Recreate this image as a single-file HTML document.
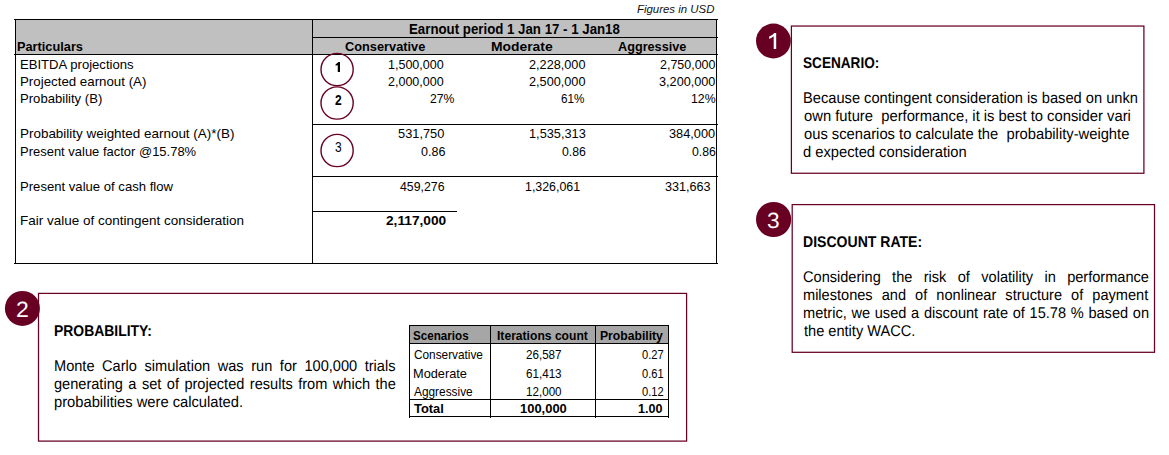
<!DOCTYPE html>
<html><head><meta charset="utf-8"><title>Earnout</title>
<style>
html,body{margin:0;padding:0;background:#fff;}
body{width:1169px;height:455px;position:relative;overflow:hidden;font-family:'Liberation Sans',sans-serif;}
.t{position:absolute;white-space:pre;line-height:1;transform-origin:0 0;color:#000;}
.r{position:absolute;}
svg{position:absolute;left:0;top:0;}
</style></head>
<body>
<div class="r" style="left:16px;top:20px;width:701px;height:34px;background:#c0c0c0"></div>
<div class="r" style="left:14px;top:19px;width:704px;height:1px;background:#000"></div>
<div class="r" style="left:15px;top:19px;width:1px;height:245px;background:#000"></div>
<div class="r" style="left:716px;top:19px;width:1px;height:245px;background:#000"></div>
<div class="r" style="left:14px;top:263px;width:704px;height:1px;background:#000"></div>
<div class="r" style="left:14px;top:54px;width:704px;height:1px;background:#000"></div>
<div class="r" style="left:312px;top:19px;width:1px;height:245px;background:#000"></div>
<div class="r" style="left:312px;top:37px;width:406px;height:1px;background:#000"></div>
<div class="r" style="left:312px;top:124px;width:406px;height:1px;background:#000"></div>
<div class="r" style="left:312px;top:176px;width:406px;height:1px;background:#000"></div>
<div class="r" style="left:312px;top:211px;width:145px;height:1px;background:#000"></div>
<div class="r" style="left:410px;top:326px;width:259px;height:17px;background:#a6a6a6"></div>
<div class="r" style="left:409px;top:325px;width:260px;height:1px;background:#000"></div>
<div class="r" style="left:409px;top:343px;width:260px;height:1px;background:#000"></div>
<div class="r" style="left:409px;top:399px;width:260px;height:1px;background:#000"></div>
<div class="r" style="left:409px;top:416px;width:260px;height:1px;background:#000"></div>
<div class="r" style="left:409px;top:325px;width:1px;height:93px;background:#000"></div>
<div class="r" style="left:490px;top:325px;width:1px;height:93px;background:#000"></div>
<div class="r" style="left:595px;top:325px;width:1px;height:93px;background:#000"></div>
<div class="r" style="left:668px;top:325px;width:1px;height:93px;background:#000"></div>
<svg width="1169" height="455" viewBox="0 0 1169 455">
<g fill="none" stroke="#680024" stroke-width="1.25">
<rect x="791.4" y="26.05" width="352.5" height="147.2"/>
<rect x="792.2" y="204.6" width="362.3" height="147.7"/>
<rect x="38.5" y="293.4" width="648.1" height="147.7"/>
</g>
<g fill="none" stroke="#680024" stroke-width="1.4">
<circle cx="337.1" cy="69.5" r="16.1"/>
<circle cx="337.1" cy="103.0" r="16.1"/>
<circle cx="337.1" cy="150.5" r="16.1"/>
</g>
<g fill="#680024">
<circle cx="773.4" cy="41.0" r="17.4"/>
<circle cx="773.6" cy="219.5" r="17.6"/>
<circle cx="22.4" cy="308.4" r="17.5"/>
</g>
<path fill="#000" d="M340 72 L337.75 72 L337.75 64.9 L335.7 65.8 L335.5 64.4 L338.5 62.1 L340 62.1 Z"/>
<path fill="#fff" d="M776.2 48.9 L773.7 48.9 L773.7 36.3 Q771.8 37.9 769.2 38.9 L769.2 36.6 Q772.6 35.2 774.3 33 L776.2 33 Z"/>
</svg>
<span class="t" style="left:17.00px;top:40px;font-size:13.7px;transform:scaleX(0.9323);font-weight:bold;">Particulars</span>
<span class="t" style="left:19.68px;top:59px;font-size:12.9px;transform:scaleX(1.0164);">EBITDA projections</span>
<span class="t" style="left:19.67px;top:76px;font-size:12.9px;transform:scaleX(1.0314);">Projected earnout (A)</span>
<span class="t" style="left:19.67px;top:93px;font-size:12.9px;transform:scaleX(1.0161);">Probability (B)</span>
<span class="t" style="left:19.66px;top:128px;font-size:12.9px;transform:scaleX(1.0426);">Probability weighted earnout (A)*(B)</span>
<span class="t" style="left:19.69px;top:146px;font-size:12.9px;transform:scaleX(1.0063);">Present value factor @15.78%</span>
<span class="t" style="left:19.68px;top:181px;font-size:12.9px;transform:scaleX(1.0167);">Present value of cash flow</span>
<span class="t" style="left:20.00px;top:215px;font-size:12.9px;transform:scaleX(1.0460);">Fair value of contingent consideration</span>
<span class="t" style="left:409.10px;top:22px;font-size:14.8px;transform:scaleX(0.8966);font-weight:bold;">Earnout period 1 Jan 17 - 1 Jan18</span>
<span class="t" style="left:344.50px;top:40px;font-size:13.7px;transform:scaleX(0.9337);font-weight:bold;">Conservative</span>
<span class="t" style="left:491.00px;top:40px;font-size:13.7px;transform:scaleX(1.0133);font-weight:bold;">Moderate</span>
<span class="t" style="left:617.50px;top:40px;font-size:13.7px;transform:scaleX(0.9261);font-weight:bold;">Aggressive</span>
<span class="t" style="left:636.70px;top:4px;font-size:11.4px;transform:scaleX(1.0026);font-style:italic;color:#111;">Figures in USD</span>
<span class="t" style="left:387.93px;top:59px;font-size:12.9px;transform:scaleX(0.9714);">1,500,000</span>
<span class="t" style="left:387.50px;top:76px;font-size:12.9px;transform:scaleX(0.9713);">2,000,000</span>
<span class="t" style="left:430.00px;top:93px;font-size:12.9px;transform:scaleX(0.9464);">27%</span>
<span class="t" style="left:397.89px;top:128px;font-size:12.9px;transform:scaleX(0.9953);">531,750</span>
<span class="t" style="left:420.60px;top:146px;font-size:12.9px;transform:scaleX(0.9702);">0.86</span>
<span class="t" style="left:400.00px;top:181px;font-size:12.9px;transform:scaleX(0.9545);">459,276</span>
<span class="t" style="left:385.80px;top:215px;font-size:12.9px;transform:scaleX(1.0630);font-weight:bold;">2,117,000</span>
<span class="t" style="left:528.70px;top:59px;font-size:12.9px;transform:scaleX(0.9842);">2,228,000</span>
<span class="t" style="left:528.70px;top:76px;font-size:12.9px;transform:scaleX(0.9842);">2,500,000</span>
<span class="t" style="left:561.00px;top:93px;font-size:12.9px;transform:scaleX(0.9059);">61%</span>
<span class="t" style="left:529.00px;top:128px;font-size:12.9px;transform:scaleX(0.9893);">1,535,313</span>
<span class="t" style="left:562.00px;top:146px;font-size:12.9px;transform:scaleX(0.9520);">0.86</span>
<span class="t" style="left:524.94px;top:181px;font-size:12.9px;transform:scaleX(0.9607);">1,326,061</span>
<span class="t" style="left:659.70px;top:59px;font-size:12.9px;transform:scaleX(0.9667);">2,750,000</span>
<span class="t" style="left:658.72px;top:76px;font-size:12.9px;transform:scaleX(0.9839);">3,200,000</span>
<span class="t" style="left:691.00px;top:93px;font-size:12.9px;transform:scaleX(0.9529);">12%</span>
<span class="t" style="left:669.00px;top:128px;font-size:12.9px;transform:scaleX(0.9883);">384,000</span>
<span class="t" style="left:692.00px;top:146px;font-size:12.9px;transform:scaleX(0.9520);">0.86</span>
<span class="t" style="left:665.00px;top:181px;font-size:12.9px;transform:scaleX(0.9784);">331,663</span>
<span class="t" style="left:334.52px;top:93px;font-size:14.6px;transform:scaleX(0.8200);font-weight:bold;">2</span>
<span class="t" style="left:334.70px;top:139px;font-size:15.0px;transform:scaleX(0.8000);">3</span>
<span class="t" style="left:803.00px;top:56px;font-size:15.51px;transform:scaleX(0.8776);font-weight:bold;text-rendering:geometricPrecision;">SCENARIO:</span>
<span class="t" style="left:802.65px;top:91px;font-size:15.5px;transform:scaleX(0.9457);text-rendering:geometricPrecision;">Because contingent consideration is based on unkn</span>
<span class="t" style="left:804.00px;top:109px;font-size:15.5px;transform:scaleX(0.9532);text-rendering:geometricPrecision;">own future  performance, it is best to consider vari</span>
<span class="t" style="left:804.00px;top:127px;font-size:15.5px;transform:scaleX(0.9512);text-rendering:geometricPrecision;">ous scenarios to calculate the  probability-weighte</span>
<span class="t" style="left:802.65px;top:145px;font-size:15.5px;transform:scaleX(0.9498);text-rendering:geometricPrecision;">d expected consideration</span>
<span class="t" style="left:802.69px;top:235px;font-size:15.51px;transform:scaleX(0.9062);font-weight:bold;text-rendering:geometricPrecision;">DISCOUNT RATE:</span>
<span class="t" style="left:802.66px;top:270px;font-size:15.5px;transform:scaleX(0.9400);word-spacing:7.78px;text-rendering:geometricPrecision;">Considering the risk of volatility in performance</span>
<span class="t" style="left:802.66px;top:288px;font-size:15.5px;transform:scaleX(0.9400);word-spacing:5.35px;text-rendering:geometricPrecision;">milestones and of nonlinear structure of payment</span>
<span class="t" style="left:802.66px;top:306px;font-size:15.5px;transform:scaleX(0.9400);word-spacing:0.71px;text-rendering:geometricPrecision;">metric, we used a discount rate of 15.78 % based on</span>
<span class="t" style="left:803.80px;top:324px;font-size:15.5px;transform:scaleX(0.9410);text-rendering:geometricPrecision;">the entity WACC.</span>
<span class="t" style="left:53.60px;top:324px;font-size:15.51px;transform:scaleX(0.8981);font-weight:bold;text-rendering:geometricPrecision;">PROBABILITY:</span>
<span class="t" style="left:54.00px;top:359px;font-size:15.5px;transform:scaleX(0.9400);word-spacing:3.77px;text-rendering:geometricPrecision;">Monte Carlo simulation was run for 100,000 trials</span>
<span class="t" style="left:54.00px;top:377px;font-size:15.5px;transform:scaleX(0.9400);word-spacing:1.51px;text-rendering:geometricPrecision;">generating a set of projected results from which the</span>
<span class="t" style="left:54.00px;top:395px;font-size:15.5px;transform:scaleX(0.9499);text-rendering:geometricPrecision;">probabilities were calculated.</span>
<span class="t" style="left:413.10px;top:330px;font-size:12.9px;transform:scaleX(0.9033);font-weight:bold;">Scenarios</span>
<span class="t" style="left:496.96px;top:330px;font-size:12.9px;transform:scaleX(0.9396);font-weight:bold;">Iterations count</span>
<span class="t" style="left:599.76px;top:330px;font-size:12.9px;transform:scaleX(0.9439);font-weight:bold;">Probability</span>
<span class="t" style="left:414.00px;top:349px;font-size:12.9px;transform:scaleX(0.9162);">Conservative</span>
<span class="t" style="left:413.01px;top:368px;font-size:12.9px;transform:scaleX(0.9906);">Moderate</span>
<span class="t" style="left:414.00px;top:386px;font-size:12.9px;transform:scaleX(0.9206);">Aggressive</span>
<span class="t" style="left:414.00px;top:403px;font-size:12.9px;transform:scaleX(1.0000);font-weight:bold;">Total</span>
<span class="t" style="left:525.70px;top:349px;font-size:12.9px;transform:scaleX(0.9000);">26,587</span>
<span class="t" style="left:526.00px;top:368px;font-size:12.9px;transform:scaleX(0.9021);">61,413</span>
<span class="t" style="left:525.60px;top:386px;font-size:12.9px;transform:scaleX(0.9026);">12,000</span>
<span class="t" style="left:519.90px;top:403px;font-size:12.9px;transform:scaleX(1.0044);font-weight:bold;">100,000</span>
<span class="t" style="left:642.00px;top:349px;font-size:12.9px;transform:scaleX(0.8600);">0.27</span>
<span class="t" style="left:642.00px;top:368px;font-size:12.9px;transform:scaleX(0.8600);">0.61</span>
<span class="t" style="left:642.00px;top:386px;font-size:12.9px;transform:scaleX(0.8600);">0.12</span>
<span class="t" style="left:637.92px;top:403px;font-size:12.9px;transform:scaleX(0.9750);font-weight:bold;">1.00</span>
<span class="t" style="left:766.70px;top:210px;font-size:22.1px;transform:scaleX(1.0300);color:#fff;text-rendering:geometricPrecision;">3</span>
<span class="t" style="left:16.26px;top:299px;font-size:22.1px;transform:scaleX(1.0400);color:#fff;text-rendering:geometricPrecision;">2</span>
</body></html>
